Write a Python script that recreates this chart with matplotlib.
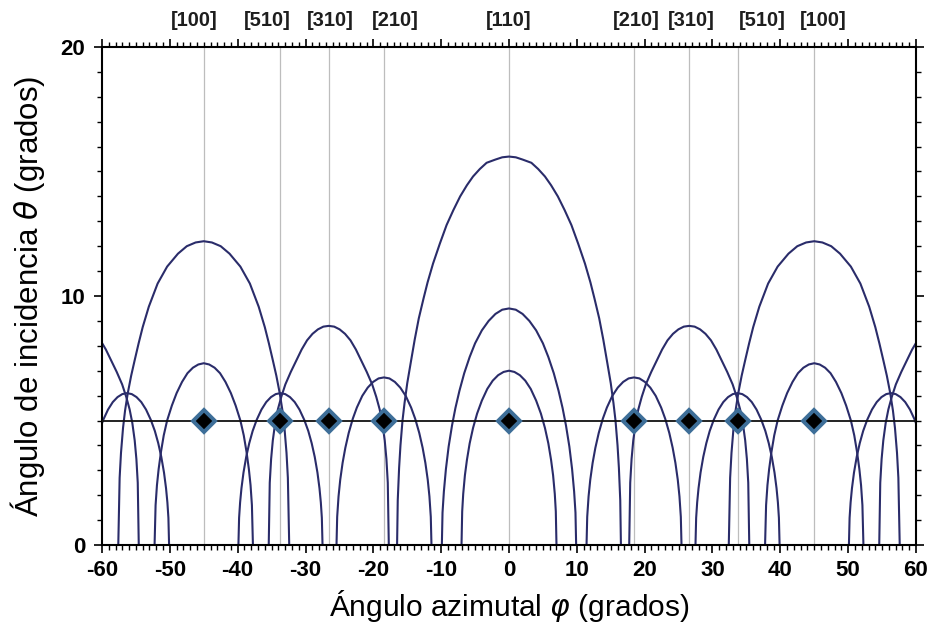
import numpy as np
import matplotlib
matplotlib.use("Agg")
import matplotlib.pyplot as plt
from matplotlib.ticker import MultipleLocator
from matplotlib.transforms import blended_transform_factory

# Crystallographic directions marked along the azimuth
direction_labels = ["[100]", "[510]", "[310]", "[210]", "[110]",
                    "[210]", "[310]", "[510]", "[100]"]
direction_phi = [-45.0, -33.69, -26.57, -18.43, 0.0, 18.43, 26.57, 33.69, 45.0]
working_theta = [5.0, 5.0, 5.0, 5.0, 5.0, 5.0, 5.0, 5.0, 5.0]
incidence_theta = 5.0

# Resonance arcs: half-profile (offset from the arc centre, theta) and centres
a1_offset = [0.0, 1.0, 2.0, 3.3, 4.3, 5.3, 6.2, 7.2, 8.2, 9.2, 10.2, 11.2, 12.0,
             12.6, 13.3, 13.9, 14.5, 15.0, 15.4, 15.7, 16.0, 16.2, 16.4, 16.5]
a1_theta = [15.6, 15.57, 15.48, 15.35, 15.1, 14.8, 14.45, 14.0, 13.45, 12.85, 12.1,
            11.3, 10.55, 9.9, 9.1, 8.25, 7.3, 6.5, 5.7, 5.0, 4.0, 3.1, 1.8, 0.0]
a1_centres = [0.0]

a2_offset = [0.0, 1.0, 2.0, 3.0, 4.0, 5.0, 5.8, 6.6, 7.3, 7.9, 8.4, 8.9, 9.3,
             9.6, 9.8, 9.9]
a2_theta = [9.5, 9.45, 9.28, 9.0, 8.62, 8.1, 7.55, 6.9, 6.2, 5.5, 4.8, 3.95, 3.05,
            2.15, 1.3, 0.0]
a2_centres = [0.0]

a3_offset = [0.0, 0.8, 1.6, 2.4, 3.2, 4.0, 4.7, 5.3, 5.8, 6.2, 6.5, 6.75, 6.9, 7.0]
a3_theta = [7.0, 6.95, 6.82, 6.6, 6.27, 5.8, 5.28, 4.7, 4.08, 3.42, 2.8, 2.05, 1.35, 0.0]
a3_centres = [0.0]

b1_offset = [0.0, 1.2, 2.5, 3.8, 5.4, 6.8, 8.1, 9.0, 9.6, 10.2, 10.7, 11.2, 11.6,
             11.9, 12.2, 12.4, 12.6]
b1_theta = [12.2, 12.15, 12.0, 11.7, 11.18, 10.5, 9.57, 8.75, 8.1, 7.4, 6.8, 6.1, 5.4,
            4.7, 3.7, 2.7, 0.0]
b1_centres = [-45.0, 45.0]

b2_offset = [0.0, 0.8, 1.6, 2.4, 3.2, 4.0, 4.7, 5.4, 5.9, 6.3, 6.65, 6.9, 7.1, 7.25]
b2_theta = [7.3, 7.25, 7.12, 6.9, 6.55, 6.1, 5.6, 5.0, 4.4, 3.75, 3.05, 2.4, 1.6, 0.0]
b2_centres = [-45.0, 45.0]

c_offset = [0.0, 0.8, 1.6, 2.4, 3.2, 4.0, 4.8, 5.6, 6.4, 7.0, 7.5, 7.9, 8.25, 8.5,
            8.7, 8.85]
c_theta = [8.8, 8.77, 8.66, 8.48, 8.22, 7.85, 7.4, 6.95, 6.45, 5.95, 5.45, 4.9, 4.2,
           3.45, 2.5, 0.0]
c_centres = [-63.43, -26.57, 26.57, 63.43]

d_offset = [0.0, 0.8, 1.6, 2.4, 3.2, 4.0, 4.6, 5.2, 5.7, 6.1, 6.45, 6.7, 6.9, 7.0]
d_theta = [6.73, 6.69, 6.55, 6.32, 5.99, 5.52, 5.07, 4.5, 3.9, 3.3, 2.62, 1.95, 1.13, 0.0]
d_centres = [-18.43, 18.43]

e_offset = [0.0, 0.7, 1.4, 2.1, 2.8, 3.5, 4.1, 4.6, 5.05, 5.45, 5.75, 5.95, 6.1, 6.2]
e_theta = [6.1, 6.06, 5.94, 5.74, 5.44, 5.03, 4.58, 4.09, 3.54, 2.91, 2.28, 1.71, 1.09, 0.0]
e_centres = [-56.31, -33.69, 33.69, 56.31]

arcs = [
    (a1_offset, a1_theta, a1_centres),
    (a2_offset, a2_theta, a2_centres),
    (a3_offset, a3_theta, a3_centres),
    (b1_offset, b1_theta, b1_centres),
    (b2_offset, b2_theta, b2_centres),
    (c_offset, c_theta, c_centres),
    (d_offset, d_theta, d_centres),
    (e_offset, e_theta, e_centres),
]

x_ticks = [-60, -50, -40, -30, -20, -10, 0, 10, 20, 30, 40, 50, 60]
y_ticks = [0, 10, 20]

plt.rcParams['font.family'] = ['Liberation Sans', 'DejaVu Sans']
plt.rcParams['mathtext.fontset'] = 'dejavusans'

fig = plt.figure(figsize=(9.28, 6.31), dpi=100)
ax = fig.add_axes([102 / 928, 86 / 631, 814 / 928, 498 / 631])

ax.set_xlim(-60, 60)
ax.set_ylim(0, 20)

arc_color = '#2a2c6a'

# Vertical guide lines for each direction
for phi in direction_phi:
    ax.axvline(phi, color='#bdbdbd', lw=0.9, zorder=1)

# Arcs, mirrored about their centres
for offset, theta, centres in arcs:
    off = np.asarray(offset)
    th = np.asarray(theta)
    full_off = np.concatenate([-off[::-1], off[1:]])
    full_th = np.concatenate([th[::-1], th[1:]])
    for c in centres:
        ax.plot(c + full_off, full_th, color=arc_color, lw=1.5, zorder=2,
                solid_joinstyle='round')

# Fixed incidence angle
ax.axhline(incidence_theta, color='#111111', lw=1.3, zorder=3)

# Working points
ax.plot(direction_phi, working_theta, linestyle='none', marker='D',
        markersize=11, markerfacecolor='black', markeredgecolor='#3d6e98',
        markeredgewidth=2.8, zorder=4)

# Direction labels above the frame
label_phi = [-46.4, -35.7, -26.4, -16.8, 0.0, 18.8, 26.9, 37.3, 46.3]
trans = blended_transform_factory(ax.transData, ax.transAxes)
for lab, xp in zip(direction_labels, label_phi):
    ax.text(xp, 1.054, lab, transform=trans, ha='center', va='center',
            fontsize=14.5, fontweight='bold', color='#1e1e1e')

# Ticks
tick_font = {'family': ['Liberation Sans Narrow', 'Liberation Sans'],
             'weight': 'bold', 'size': 16}
ax.set_xticks(x_ticks)
ax.set_xticklabels([str(t) for t in x_ticks], fontdict=tick_font)
ax.set_yticks(y_ticks)
ax.set_yticklabels([str(t) for t in y_ticks], fontdict=tick_font)
ax.xaxis.set_minor_locator(MultipleLocator(1))
ax.yaxis.set_minor_locator(MultipleLocator(1))
ax.tick_params(axis='both', which='major', direction='out', length=6,
               width=1.2, color='black', top=True, right=True, pad=6)
ax.tick_params(axis='both', which='minor', direction='out', length=3.5,
               width=1.0, color='black', top=True, right=True)
ax.tick_params(axis='x', which='major', pad=5)

for sp in ax.spines.values():
    sp.set_linewidth(1.5)
    sp.set_color('black')

ax.set_xlabel(r'Ángulo azimutal $\varphi$ (grados)', fontsize=21.5, labelpad=5)
ax.set_ylabel(r'Ángulo de incidencia $\theta$ (grados)', fontsize=22.5, labelpad=10)

fig.savefig('out.png', dpi=100)
